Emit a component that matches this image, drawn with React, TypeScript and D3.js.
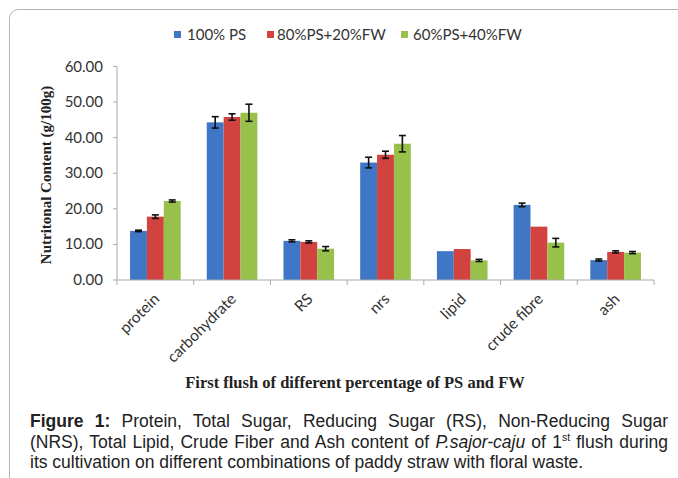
import React, { useLayoutEffect, useRef } from 'react';
import { scaleBand, scaleLinear, range } from 'd3';

const categories = ['protein', 'carbohydrate', 'RS', 'nrs', 'lipid', 'crude fibre', 'ash'];
const seriesNames = ['100% PS', '80%PS+20%FW', '60%PS+40%FW'];
const seriesColors = ['#3f76c6', '#d2423f', '#98c14c'];

const ps100 = [13.8, 44.3, 11.0, 33.0, 8.1, 21.1, 5.6];
const ps80 = [17.8, 45.8, 10.7, 35.2, 8.7, 15.0, 7.9];
const ps60 = [22.2, 47.0, 8.8, 38.3, 5.5, 10.5, 7.7];

const err100 = [0.2, 1.6, 0.3, 1.5, 0, 0.5, 0.3];
const err80 = [0.5, 0.9, 0.3, 1.0, 0, 0, 0.3];
const err60 = [0.3, 2.4, 0.6, 2.3, 0.3, 1.2, 0.3];

const yTicks = [0, 10, 20, 30, 40, 50, 60];

const values = [ps100, ps80, ps60];
const errors = [err100, err80, err60];

const W = 678;
const H = 478;
const left = 117;
const right = 654;
const top = 66.5;
const bottom = 280;

const labelFont = "Lato, 'Open Sans', sans-serif";
const serif = "'Liberation Serif', 'DejaVu Serif', serif";
const capFont = "'Liberation Sans', Arial, sans-serif";

const capLeft = 30;
const capRight = 668;

const App = () => {
  const line1 = useRef<SVGTextElement>(null);
  const line2 = useRef<SVGTextElement>(null);

  // justify the first two caption lines by spreading the word gaps
  useLayoutEffect(() => {
    [line1.current, line2.current].forEach(el => {
      if (!el) return;
      el.setAttribute('word-spacing', '0');
      const natural = el.getComputedTextLength();
      const gaps = (el.textContent || '').trim().split(/\s+/).length - 1;
      if (gaps > 0) el.setAttribute('word-spacing', String((capRight - capLeft - natural) / gaps));
    });
  }, []);

  const x0 = scaleBand<string>()
    .domain(categories)
    .range([left, right])
    .paddingInner(0.34)
    .paddingOuter(0.17);

  const x1 = scaleBand<string>()
    .domain(seriesNames)
    .range([0, x0.bandwidth()]);

  const y = scaleLinear().domain([0, 60]).range([bottom, top]);

  const step = x0.step();

  const bars = categories.map((c, i) => (
    <g key={c}>
      {seriesNames.map((s, j) => (
        <rect
          key={s}
          x={(x0(c) as number) + (x1(s) as number)}
          y={y(values[j][i])}
          width={x1.bandwidth()}
          height={bottom - y(values[j][i])}
          fill={seriesColors[j]}
        />
      ))}
    </g>
  ));

  const errorBars = categories.map((c, i) =>
    seriesNames.map((s, j) => {
      const e = errors[j][i];
      if (!e) return null;
      const cx = (x0(c) as number) + (x1(s) as number) + x1.bandwidth() / 2;
      const y1 = y(values[j][i] + e);
      const y2 = y(values[j][i] - e);
      return (
        <g key={c + s} stroke="#111" strokeWidth={1.6}>
          <line x1={cx} x2={cx} y1={y1} y2={y2} />
          <line x1={cx - 3.5} x2={cx + 3.5} y1={y1} y2={y1} />
          <line x1={cx - 3.5} x2={cx + 3.5} y1={y2} y2={y2} />
        </g>
      );
    })
  );

  const legendX = [174, 267, 401];
  const legendGap = [13, 10, 12];

  return (
    <svg width={W} height={H} style={{ position: 'absolute', left: 0, top: 0, background: '#fff' }}>
      <rect x={9.5} y={9.5} width={720} height={520} rx={9} fill="#fff" stroke="#b5b5b5" strokeWidth={1} />

      {/* legend */}
      {seriesNames.map((s, j) => (
        <g key={s} transform={`translate(${legendX[j]},0)`}>
          <rect x={0} y={31} width={7} height={7} fill={seriesColors[j]} />
          <text x={legendGap[j]} y={39.5} fontFamily={labelFont} fontSize={15} fill="#333">{s}</text>
        </g>
      ))}

      {/* y axis */}
      <line x1={left} x2={left} y1={top} y2={bottom} stroke="#aaa" />
      {yTicks.map(t => (
        <g key={t}>
          <line x1={left - 4} x2={left} y1={y(t)} y2={y(t)} stroke="#aaa" />
          <text x={103} y={y(t) + 5} textAnchor="end" fontFamily={labelFont} fontSize={15} fill="#333">
            {t.toFixed(2)}
          </text>
        </g>
      ))}
      <text
        transform={`translate(51,175) rotate(-90)`}
        textAnchor="middle"
        fontFamily={serif}
        fontWeight="bold"
        fontSize={15}
        fill="#222"
      >
        Nutritonal Content (g/100g)
      </text>

      {bars}
      {errorBars}

      {/* x axis */}
      <line x1={left} x2={right} y1={bottom} y2={bottom} stroke="#aaa" />
      {range(categories.length + 1).map(i => (
        <line key={i} x1={left + i * step} x2={left + i * step} y1={bottom} y2={bottom + 5} stroke="#aaa" />
      ))}
      {categories.map(c => {
        const cx = (x0(c) as number) + x0.bandwidth() / 2 + 5;
        return (
          <text
            key={c}
            transform={`translate(${cx},${bottom + 20}) rotate(-45)`}
            textAnchor="end"
            fontFamily={labelFont}
            fontSize={15.5}
            fill="#333"
          >
            {c}
          </text>
        );
      })}
      <text x={355} y={388} textAnchor="middle" fontFamily={serif} fontWeight="bold" fontSize={16.5} fill="#222">
        First flush of different percentage of PS and FW
      </text>

      {/* caption */}
      <g fontFamily={capFont} fontSize={17.5} fill="#222">
        <text ref={line1} x={capLeft} y={427}>
          <tspan fontWeight="bold">Figure 1:</tspan> Protein, Total Sugar, Reducing Sugar (RS), Non-Reducing Sugar
        </text>
        <text ref={line2} x={capLeft} y={447.5}>
          (NRS), Total Lipid, Crude Fiber and Ash content of <tspan fontStyle="italic">P.sajor-caju</tspan> of 1
          <tspan fontSize={10.5} dy={-6.5}>st</tspan>
          <tspan dy={6.5}> flush during</tspan>
        </text>
        <text x={capLeft} y={468}>
          its cultivation on different combinations of paddy straw with floral waste.
        </text>
      </g>
    </svg>
  );
};

export default App;
